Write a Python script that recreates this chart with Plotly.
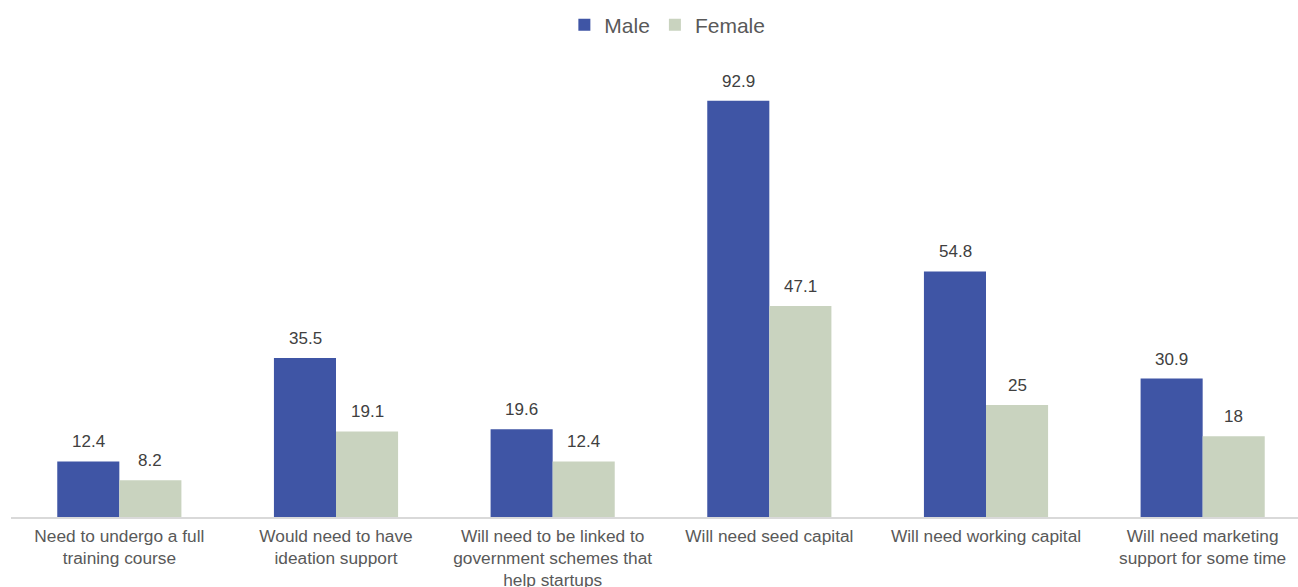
import plotly.graph_objects as go

categories = [
    "Need to undergo a full<br>training course",
    "Would need to have<br>ideation support",
    "Will need to be linked to<br>government schemes that<br>help startups",
    "Will need seed capital",
    "Will need working capital",
    "Will need marketing<br>support for some time",
]
male = [12.4, 35.5, 19.6, 92.9, 54.8, 30.9]
female = [8.2, 19.1, 12.4, 47.1, 25, 18]

male_color = "#3F55A5"
female_color = "#C9D3BF"
font_family = "Liberation Sans, Arial, sans-serif"

fig = go.Figure()
fig.add_trace(go.Bar(name="Male", x=categories, y=male, marker_color=male_color,
                     marker_line_width=0))
fig.add_trace(go.Bar(name="Female", x=categories, y=female, marker_color=female_color,
                     marker_line_width=0))

annotations = []
for i, c in enumerate(categories):
    for val, shift in ((male[i], -31), (female[i], 31)):
        annotations.append(dict(
            x=c, y=val, xref="x", yref="y", text=f"{val:g}", showarrow=False,
            xshift=shift, yanchor="bottom", yshift=8,
            font=dict(size=17, color="#404040", family=font_family)))

fig.update_layout(
    width=1298, height=587,
    margin=dict(l=11, r=0, t=60, b=70, autoexpand=False),
    paper_bgcolor="white", plot_bgcolor="white",
    barmode="group", bargap=0.427, bargroupgap=0,
    font=dict(family=font_family, color="#595959"),
    legend=dict(orientation="h", x=0.51, xanchor="center", yref="container",
                y=1 - 25 / 587, yanchor="middle",
                font=dict(size=21, color="#595959", family=font_family),
                itemwidth=30, tracegroupgap=0),
    annotations=annotations,
    showlegend=True,
)
fig.update_xaxes(showline=True, linecolor="#D9D9D9", linewidth=1.5, ticks="",
                 tickfont=dict(size=17.3, color="#595959", family=font_family),
                 ticklabelstandoff=2, automargin=False,
                 range=[-0.5, 5.44], showgrid=False)
fig.update_yaxes(range=[0, 102], visible=False, showgrid=False, zeroline=False,
                 automargin=False)

fig.write_html("out.html")
